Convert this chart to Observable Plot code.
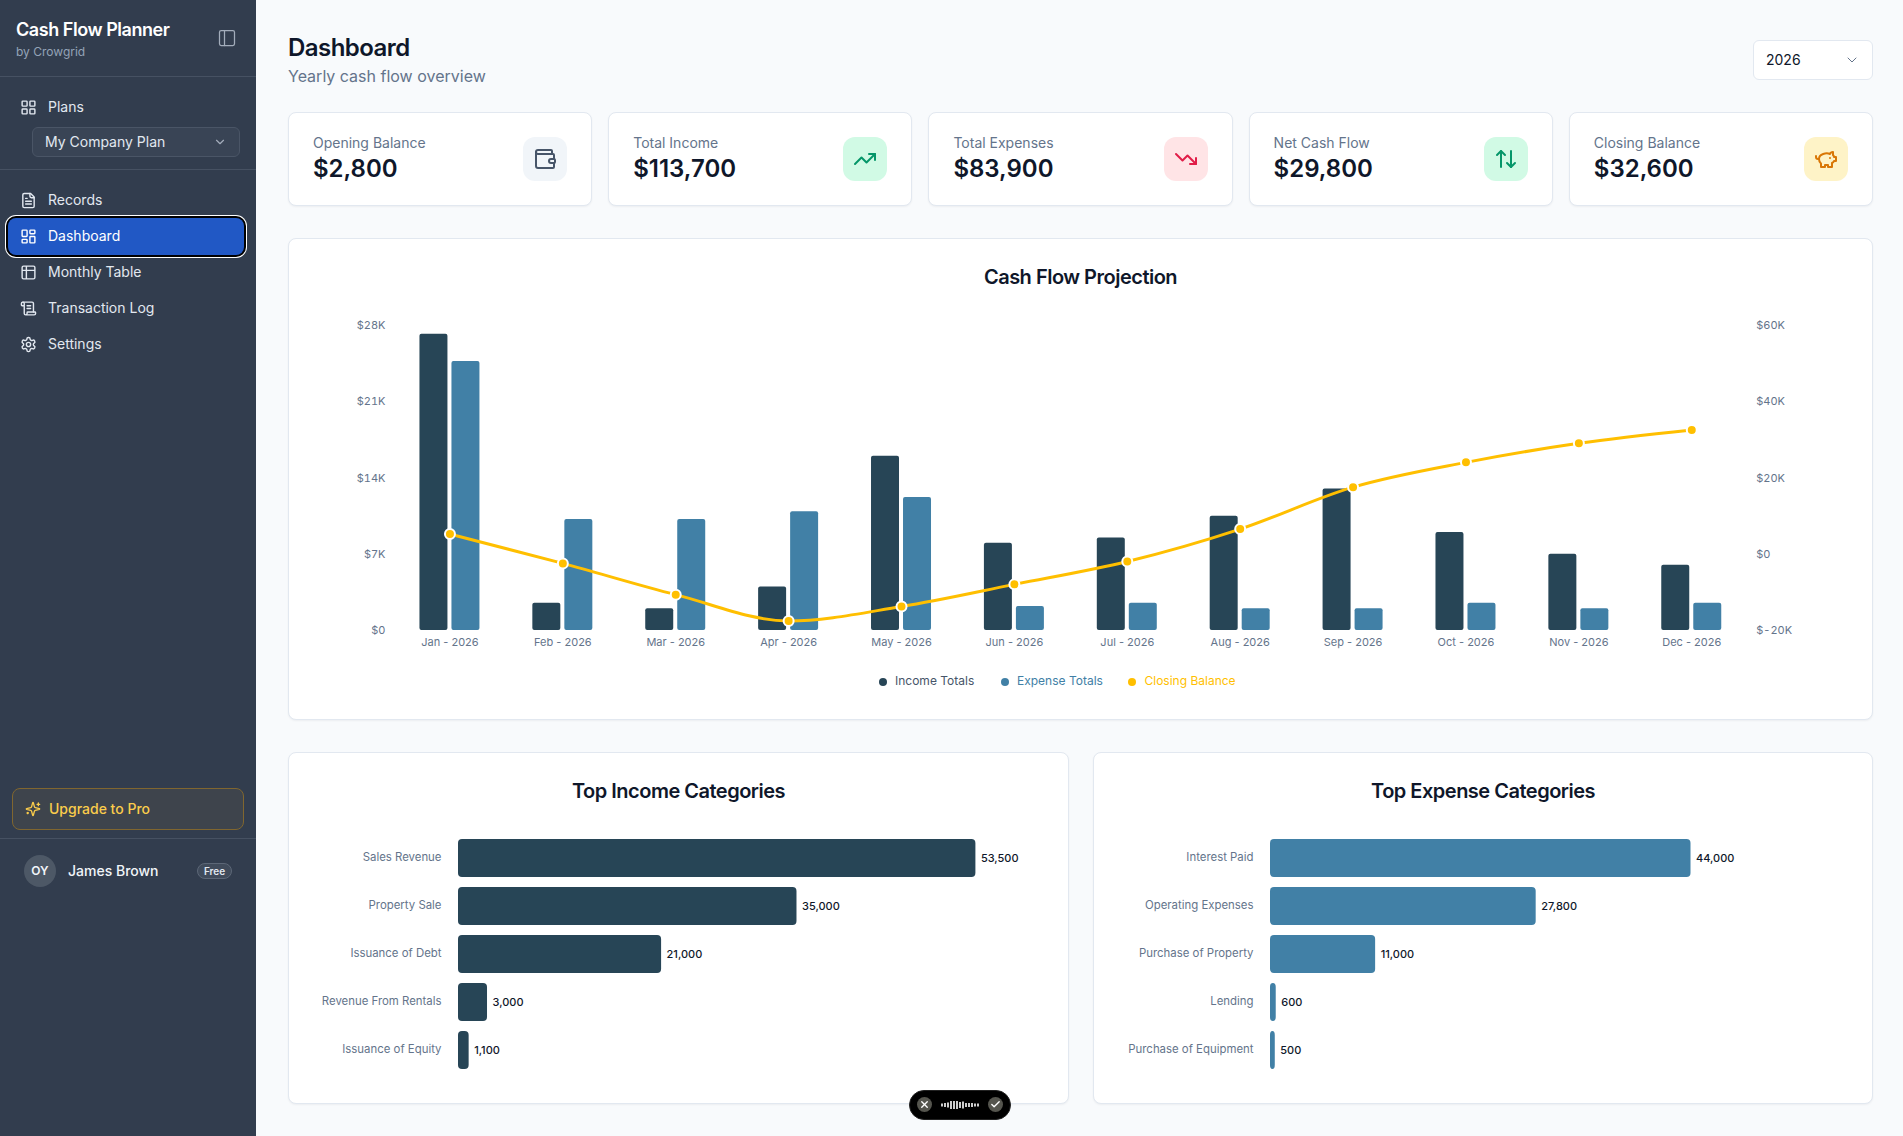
<!DOCTYPE html>
<html lang="en">
<head>
<meta charset="utf-8">
<title>Cash Flow Planner</title>
<script src="https://cdn.jsdelivr.net/npm/d3@7"></script>
<script src="https://cdn.jsdelivr.net/npm/@observablehq/plot@0.6"></script>
<style>
*{box-sizing:border-box}
html,body{margin:0;padding:0;width:1903px;height:1136px;overflow:hidden;background:#f8fafc;font-family:Inter,sans-serif;color:#0f172a}
#page{position:relative;width:1903px;height:1136px;overflow:hidden}
.a{position:absolute}
.t{position:absolute;white-space:nowrap;line-height:1;transform:translateY(-50%)}
#side{position:absolute;left:0;top:0;width:256px;height:1136px;background:#323d4e}
.div{position:absolute;left:0;width:256px;height:1px;background:#465162}
.nav{color:#e2e8f0;font-size:14px;left:48px}
svg.i{position:absolute;fill:none;stroke:currentColor;stroke-width:2;stroke-linecap:round;stroke-linejoin:round}
.card{position:absolute;background:#fff;border:1px solid #e2e8f0;border-radius:8px;box-shadow:0 1px 2px rgba(15,23,42,.05)}
.h{position:absolute;font-size:20px;font-weight:600;letter-spacing:-.5px;text-align:center;line-height:1;transform:translateY(-50%);color:#0f172a}
.plot{position:absolute}
.plot svg{display:block;overflow:visible;font-feature-settings:"calt" 0}
.dot{position:absolute;width:8px;height:8px;border-radius:50%}
.leg{position:absolute;font-size:12px;line-height:1;transform:translateY(-50%);white-space:nowrap}
</style>
</head>
<body>
<div id="page">
  <div id="side">
    <div class="t" style="left:16px;top:30px;font-size:18px;font-weight:600;color:#fff;letter-spacing:-.45px">Cash Flow Planner</div>
    <div class="t" style="left:16px;top:52px;font-size:12px;color:#94a3b8">by Crowgrid</div>
    <svg class="i" style="left:217px;top:28px;color:#a3adbb;stroke-width:1.5" width="20" height="20" viewBox="0 0 24 24"><rect x="3" y="3" width="18" height="18" rx="2"/><path d="M9 3v18"/></svg>
    <div class="div" style="top:76px"></div>
    <svg class="i" style="left:19.5px;top:98.5px;color:#e2e8f0" width="17" height="17" viewBox="0 0 24 24"><rect x="3" y="3" width="7" height="7" rx="1"/><rect x="14" y="3" width="7" height="7" rx="1"/><rect x="14" y="14" width="7" height="7" rx="1"/><rect x="3" y="14" width="7" height="7" rx="1"/></svg>
    <div class="t nav" style="top:107px">Plans</div>
    <div class="a" style="left:32px;top:127px;width:208px;height:30px;border:1px solid #4a5566;border-radius:6px;background:#394455"></div>
    <div class="t" style="left:45px;top:142px;font-size:14px;color:#e2e8f0">My Company Plan</div>
    <svg class="i" style="left:213px;top:135px;color:#a3adbb" width="14" height="14" viewBox="0 0 24 24"><path d="m6 9 6 6 6-6"/></svg>
    <div class="div" style="top:169px"></div>
    <svg class="i" style="left:19.5px;top:191.5px;color:#e2e8f0" width="17" height="17" viewBox="0 0 24 24"><path d="M15 2H6a2 2 0 0 0-2 2v16a2 2 0 0 0 2 2h12a2 2 0 0 0 2-2V7Z"/><path d="M14 2v4a2 2 0 0 0 2 2h4"/><path d="M10 9H8"/><path d="M16 13H8"/><path d="M16 17H8"/></svg>
    <div class="t nav" style="top:200px">Records</div>
    <div class="a" style="left:8px;top:218px;width:236px;height:37px;border-radius:8px;background:#2158c5;box-shadow:0 0 0 2px #000,0 0 0 3px #fff"></div>
    <svg class="i" style="left:19.5px;top:227.5px;color:#fff" width="17" height="17" viewBox="0 0 24 24"><rect width="7" height="9" x="3" y="3" rx="1"/><rect width="7" height="5" x="14" y="3" rx="1"/><rect width="7" height="9" x="14" y="12" rx="1"/><rect width="7" height="5" x="3" y="16" rx="1"/></svg>
    <div class="t nav" style="top:236px;color:#fff">Dashboard</div>
    <svg class="i" style="left:19.5px;top:263.5px;color:#e2e8f0" width="17" height="17" viewBox="0 0 24 24"><path d="M9 3H5a2 2 0 0 0-2 2v4m6-6h10a2 2 0 0 1 2 2v4M9 3v18m0 0h10a2 2 0 0 0 2-2V9M9 21H5a2 2 0 0 1-2-2V9m0 0h18"/></svg>
    <div class="t nav" style="top:272px">Monthly Table</div>
    <svg class="i" style="left:19.5px;top:299.5px;color:#e2e8f0" width="17" height="17" viewBox="0 0 24 24"><path d="M15 12h-5"/><path d="M15 8h-5"/><path d="M19 17V5a2 2 0 0 0-2-2H4"/><path d="M8 21h12a2 2 0 0 0 2-2v-1a1 1 0 0 0-1-1H11a1 1 0 0 0-1 1v1a2 2 0 1 1-4 0V5a2 2 0 1 0-4 0v2a1 1 0 0 0 1 1h3"/></svg>
    <div class="t nav" style="top:308px">Transaction Log</div>
    <svg class="i" style="left:19.5px;top:335.5px;color:#e2e8f0" width="17" height="17" viewBox="0 0 24 24"><path d="M12.22 2h-.44a2 2 0 0 0-2 2v.18a2 2 0 0 1-1 1.73l-.43.25a2 2 0 0 1-2 0l-.15-.08a2 2 0 0 0-2.73.73l-.22.38a2 2 0 0 0 .73 2.73l.15.1a2 2 0 0 1 1 1.72v.51a2 2 0 0 1-1 1.74l-.15.09a2 2 0 0 0-.73 2.73l.22.38a2 2 0 0 0 2.73.73l.15-.08a2 2 0 0 1 2 0l.43.25a2 2 0 0 1 1 1.73V20a2 2 0 0 0 2 2h.44a2 2 0 0 0 2-2v-.18a2 2 0 0 1 1-1.73l.43-.25a2 2 0 0 1 2 0l.15.08a2 2 0 0 0 2.73-.73l.22-.39a2 2 0 0 0-.73-2.73l-.15-.08a2 2 0 0 1-1-1.74v-.5a2 2 0 0 1 1-1.74l.15-.09a2 2 0 0 0 .73-2.73l-.22-.38a2 2 0 0 0-2.73-.73l-.15.08a2 2 0 0 1-2 0l-.43-.25a2 2 0 0 1-1-1.73V4a2 2 0 0 0-2-2z"/><circle cx="12" cy="12" r="3"/></svg>
    <div class="t nav" style="top:344px">Settings</div>
    <div class="a" style="left:12px;top:788px;width:232px;height:42px;border:1px solid #80662f;border-radius:8px;background:#3e444c"></div>
    <svg class="i" style="left:25px;top:801px;color:#facc4b" width="16" height="16" viewBox="0 0 24 24"><path d="M9.937 15.5A2 2 0 0 0 8.5 14.063l-6.135-1.582a.5.5 0 0 1 0-.962L8.5 9.936A2 2 0 0 0 9.937 8.5l1.582-6.135a.5.5 0 0 1 .963 0L14.063 8.5A2 2 0 0 0 15.5 9.937l6.135 1.581a.5.5 0 0 1 0 .964L15.5 14.063a2 2 0 0 0-1.437 1.437l-1.582 6.135a.5.5 0 0 1-.963 0z"/><path d="M20 3v4"/><path d="M22 5h-4"/><path d="M4 17v2"/><path d="M5 18H3"/></svg>
    <div class="t" style="left:49px;top:809px;font-size:14px;font-weight:500;color:#facc4b">Upgrade to Pro</div>
    <div class="div" style="top:838px"></div>
    <div class="a" style="left:24px;top:855px;width:32px;height:32px;border-radius:50%;background:#4d5866"></div>
    <div class="t" style="left:24px;width:32px;text-align:center;top:871px;font-size:12px;font-weight:600;color:#f1f5f9">OY</div>
    <div class="t" style="left:68px;top:871px;font-size:14px;font-weight:500;color:#f1f5f9">James Brown</div>
    <div class="a" style="left:197px;top:863px;width:35px;height:16px;border:1px solid #5c6777;border-radius:8px;background:#404b5b"></div>
    <div class="t" style="left:197px;width:35px;text-align:center;top:871px;font-size:10px;font-weight:600;color:#e2e8f0">Free</div>
  </div>

  <div class="t" style="left:288px;top:48px;font-size:24px;font-weight:600;letter-spacing:-.55px;color:#0f172a">Dashboard</div>
  <div class="t" style="left:288px;top:76px;font-size:16px;color:#64748b">Yearly cash flow overview</div>
  <div class="a" style="left:1753px;top:40px;width:120px;height:40px;background:#fff;border:1px solid #e2e8f0;border-radius:6px"></div>
  <div class="t" style="left:1766px;top:60px;font-size:14px;color:#0f172a">2026</div>
  <svg class="i" style="left:1844px;top:52px;color:#64748b;stroke-width:1.5" width="16" height="16" viewBox="0 0 24 24"><path d="m6 9 6 6 6-6"/></svg>

  <div id="kpis"></div>

  <div class="card" style="left:288px;top:238px;width:1585px;height:482px"></div>
  <div class="h" style="left:288px;width:1585px;top:277px">Cash Flow Projection</div>
  <div id="combo" class="plot" style="left:289px;top:300px"></div>
  <div id="legend"></div>

  <div class="card" style="left:288px;top:752px;width:781px;height:352px"></div>
  <div class="h" style="left:288px;width:781px;top:791px">Top Income Categories</div>
  <div id="incomeBars" class="plot" style="left:289px;top:820px"></div>

  <div class="card" style="left:1093px;top:752px;width:780px;height:352px"></div>
  <div class="h" style="left:1093px;width:780px;top:791px">Top Expense Categories</div>
  <div id="expenseBars" class="plot" style="left:1094px;top:820px"></div>

  <div class="a" style="left:909px;top:1090px;width:102px;height:30px;border-radius:15px;background:#000;border:1px solid #222"></div>
  <div class="a" style="left:917px;top:1097px;width:15px;height:15px;border-radius:50%;background:#55554e"></div>
  <svg class="i" style="left:919px;top:1099px;color:#fff;stroke-width:3" width="11" height="11" viewBox="0 0 24 24"><path d="M18 6 6 18"/><path d="m6 6 12 12"/></svg>
  <div class="a" style="left:988px;top:1097px;width:15px;height:15px;border-radius:50%;background:#55554e"></div>
  <svg class="i" style="left:990px;top:1099px;color:#fff;stroke-width:3" width="11" height="11" viewBox="0 0 24 24"><path d="M20 6 9 17l-5-5"/></svg>
  <svg class="a" style="left:941px;top:1100px" width="38" height="10" viewBox="0 0 38 10"><path stroke="#fff" stroke-width="1.6" d="M1 3.500v3M4 3v4M7 2.500v5M10 1v8M13 1v8M16 1v8M19 2v6M22 1.500v7M25 3v4M28 3v4M31 3v4M34 3.500v3M37 3.500v3"/></svg>
</div>

<script>
// ---- KPI cards ----
const kpiLabels = ["Opening Balance", "Total Income", "Total Expenses", "Net Cash Flow", "Closing Balance"];
const kpiValues = ["$2,800", "$113,700", "$83,900", "$29,800", "$32,600"];
const kpiBoxColors = ["#f1f5f9", "#d1fae5", "#ffe4e6", "#d1fae5", "#fef3c7"];
const kpiIconColors = ["#475569", "#059669", "#e11d48", "#059669", "#d97706"];
const kpiIcons = [
  '<path d="M19 7V4a1 1 0 0 0-1-1H5a2 2 0 0 0 0 4h15a1 1 0 0 1 1 1v4h-3a2 2 0 0 0 0 4h3a1 1 0 0 0 1-1v-2a1 1 0 0 0-1-1"/><path d="M3 5v14a2 2 0 0 0 2 2h15a1 1 0 0 0 1-1v-4"/>',
  '<polyline points="22 7 13.5 15.5 8.5 10.5 2 17"/><polyline points="16 7 22 7 22 13"/>',
  '<polyline points="22 17 13.5 8.5 8.5 13.5 2 7"/><polyline points="16 17 22 17 22 11"/>',
  '<path d="m21 16-4 4-4-4"/><path d="M17 20V4"/><path d="m3 8 4-4 4 4"/><path d="M7 4v16"/>',
  '<path d="M19 5c-1.5 0-2.8 1.4-3 2-3.500-1.500-11-.3-11 5 0 1.800 0 3 2 4.500V20h4v-2h3v2h4v-4c1-.5 1.700-1 2-2h2v-4h-2c0-1-.5-1.500-1-2V5z"/><path d="M2 9v1c0 1.100.9 2 2 2h1"/><path d="M16 11h.01"/>'
];

// ---- Cash flow projection ----
const months = ["Jan - 2026","Feb - 2026","Mar - 2026","Apr - 2026","May - 2026","Jun - 2026","Jul - 2026","Aug - 2026","Sep - 2026","Oct - 2026","Nov - 2026","Dec - 2026"];
const incomeTotals = [27200, 2500, 2000, 4000, 16000, 8000, 8500, 10500, 13000, 9000, 7000, 6000];
const expenseTotals = [24700, 10200, 10200, 10900, 12200, 2200, 2500, 2000, 2000, 2500, 2000, 2500];
const closingBalance = [5300, -2400, -10600, -17500, -13700, -7900, -1900, 6600, 17600, 24100, 29100, 32600];
const leftTicks = [0, 7000, 14000, 21000, 28000];
const leftTickLabels = ["$0", "$7K", "$14K", "$21K", "$28K"];
const rightTickLabels = ["$-20K", "$0", "$20K", "$40K", "$60K"];
const legendNames = ["Income Totals", "Expense Totals", "Closing Balance"];

// ---- Category bars ----
const incomeCategories = ["Sales Revenue", "Property Sale", "Issuance of Debt", "Revenue From Rentals", "Issuance of Equity"];
const incomeAmounts = [53500, 35000, 21000, 3000, 1100];
const expenseCategories = ["Interest Paid", "Operating Expenses", "Purchase of Property", "Lending", "Purchase of Equipment"];
const expenseAmounts = [44000, 27800, 11000, 600, 500];

const INCOME = "#274556", EXPENSE = "#4180a6", CLOSING = "#ffbf00", TICK = "#64748b";

// KPI markup
const kpis = document.getElementById("kpis");
kpiLabels.forEach((label, i) => {
  const left = 288 + i * 320.2;
  kpis.insertAdjacentHTML("beforeend", `
    <div class="card" style="left:${left}px;top:112px;width:304.200px;height:94px"></div>
    <div class="t" style="left:${left + 25}px;top:143px;font-size:14px;color:#64748b">${label}</div>
    <div class="t" style="left:${left + 25}px;top:169px;font-size:24px;font-weight:600;color:#0f172a">${kpiValues[i]}</div>
    <div class="a" style="left:${left + 235.200}px;top:137px;width:44px;height:44px;border-radius:12px;background:${kpiBoxColors[i]}"></div>
    <svg class="i" style="left:${left + 245.200}px;top:147px;color:${kpiIconColors[i]}" width="24" height="24" viewBox="0 0 24 24">${kpiIcons[i]}</svg>`);
});

// Legend markup
const legendGeom = [[879, 895, INCOME, "#475569"], [1001, 1017, EXPENSE, EXPENSE], [1127.5, 1144.5, CLOSING, CLOSING]];
const legend = document.getElementById("legend");
legendNames.forEach((name, i) => {
  const [dx, tx, c, tc] = legendGeom[i];
  legend.insertAdjacentHTML("beforeend",
    `<div class="dot" style="left:${dx}px;top:678px;background:${c}"></div><div class="leg" style="left:${tx}px;top:681px;color:${tc}">${name}</div>`);
});

// The balance series reads on the right axis, which spans -20K..60K over the same height as 0..28K.
const rightMin = -20000, rightMax = 60000, leftMax = 28000;
const toLeftScale = v => (v - rightMin) / (rightMax - rightMin) * leftMax;

const rows = months.map((month, i) => ({month, income: incomeTotals[i], expense: expenseTotals[i], closing: toLeftScale(closingBalance[i])}));
const barW = 28, gap = 4, bandW = 112.9;
const fontStyle = {fontFamily: "Inter, sans-serif", background: "transparent", overflow: "visible"};

document.getElementById("combo").append(Plot.plot({
  width: 1583, height: 360,
  marginTop: 25, marginBottom: 30, marginLeft: 104, marginRight: 124.300,
  style: fontStyle,
  x: {domain: months, padding: 0, round: false, axis: null},
  y: {domain: [0, leftMax], axis: null},
  marks: [
    Plot.barY(rows, {x: "month", y: "income", fill: INCOME, insetLeft: bandW / 2 - barW - gap / 2, insetRight: bandW / 2 + gap / 2, rx: 2}),
    Plot.barY(rows, {x: "month", y: "expense", fill: EXPENSE, insetLeft: bandW / 2 + gap / 2, insetRight: bandW / 2 - barW - gap / 2, rx: 2}),
    Plot.axisX({domain: months, anchor: "bottom", tickSize: 0, tickPadding: 8, label: null, fontSize: 11, color: TICK}),
    Plot.axisY({anchor: "left", ticks: leftTicks, tickFormat: (d, i) => leftTickLabels[i], tickSize: 0, tickPadding: 8, label: null, fontSize: 11, color: TICK}),
    Plot.axisY({anchor: "right", ticks: leftTicks, tickFormat: (d, i) => rightTickLabels[i], tickSize: 0, tickPadding: 8, label: null, fontSize: 11, color: TICK}),
    Plot.line(rows, {x: "month", y: "closing", stroke: CLOSING, strokeWidth: 3, curve: "monotone-x"}),
    Plot.dot(rows, {x: "month", y: "closing", r: 5, fill: CLOSING, stroke: "#fff", strokeWidth: 2})
  ]
}));

function hbars(id, cats, vals, color, marginLeft, marginRight) {
  const data = cats.map((c, i) => ({c, v: vals[i]}));
  document.getElementById(id).append(Plot.plot({
    width: 778, height: 270,
    marginTop: 9, marginBottom: 11, marginLeft, marginRight,
    style: fontStyle,
    x: {domain: [0, vals[0]], axis: null},
    y: {domain: cats, padding: 0.208, round: false, axis: null},
    marks: [
      Plot.barX(data, {x: "v", y: "c", fill: color, rx: 4, ry: 4}),
      Plot.axisY({anchor: "left", tickSize: 0, tickPadding: 17, label: null, fontSize: 11.4, color: TICK, dy: -1.5}),
      Plot.text(data, {x: "v", y: "c", text: d => d3.format(",")(d.v), textAnchor: "start", dx: 5, fontSize: 11, fontWeight: 500, fill: "#0f172a"})
    ]
  }));
}
hbars("incomeBars", incomeCategories, incomeAmounts, INCOME, 169, 91.600);
hbars("expenseBars", expenseCategories, expenseAmounts, EXPENSE, 176, 181.500);
</script>
</body>
</html>
